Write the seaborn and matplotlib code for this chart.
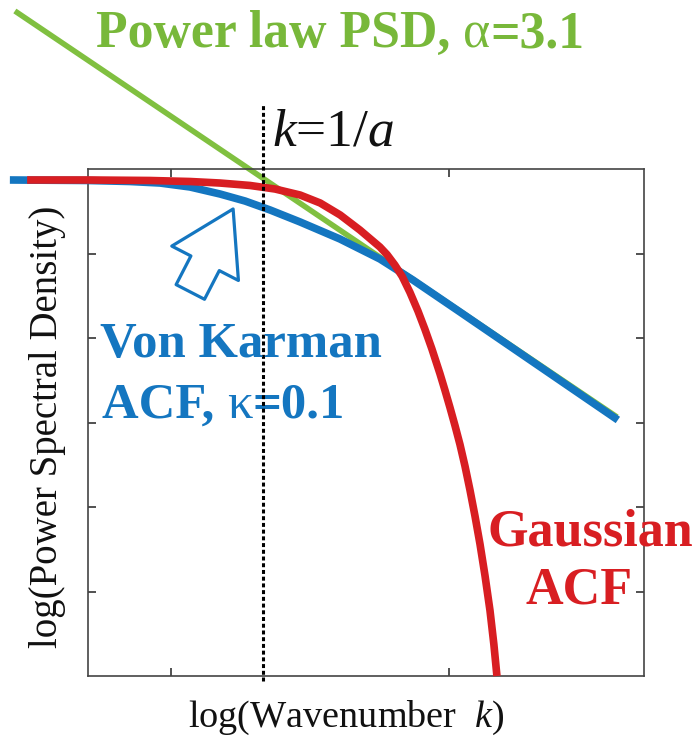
import matplotlib
matplotlib.use("Agg")
import matplotlib.pyplot as plt
import seaborn as sns

# ---- data (x: log wavenumber in decades, y: log PSD in tick units) ----
blue_x = [-0.281, 0.000, 0.151, 0.259, 0.367, 0.475, 0.565, 0.655, 0.763, 0.906, 1.050, 1.169, 1.338, 1.906]
blue_y = [5.870, 5.864, 5.852, 5.834, 5.787, 5.704, 5.621, 5.515, 5.373, 5.172, 4.935, 4.686, 4.308, 3.030]

red_x = [-0.219, 0.000, 0.223, 0.367, 0.475, 0.583, 0.673, 0.763, 0.835, 0.907, 0.978, 1.050, 1.076,
         1.104, 1.130, 1.158, 1.187, 1.212, 1.237, 1.266, 1.284, 1.302, 1.320, 1.338, 1.356,
         1.374, 1.392, 1.410, 1.428, 1.446, 1.460, 1.471]
red_y = [5.870, 5.870, 5.864, 5.852, 5.834, 5.805, 5.763, 5.692, 5.598, 5.456, 5.278, 5.077, 4.986,
         4.863, 4.730, 4.541, 4.318, 4.103, 3.871, 3.578, 3.382, 3.178, 2.965, 2.740, 2.485,
         2.201, 1.894, 1.562, 1.189, 0.775, 0.373, 0.000]

green_x = [-0.263, 1.903]
green_y = [7.870, 3.065]

k_corner = 0.629          # k = 1/a
xticks = [0.30, 1.30]
yticks = [1, 2, 3, 4, 5]
xlim = (0, 2)
ylim = (0, 6)

BLUE = "#1476c0"
RED = "#d81e22"
GREEN = "#80c040"
GREEN_TXT = "#78b83a"

sns.set_style("white")
plt.rcParams["font.family"] = ["Liberation Serif", "DejaVu Serif"]
plt.rcParams["mathtext.fontset"] = "custom"
plt.rcParams["mathtext.rm"] = "Liberation Serif"
plt.rcParams["mathtext.it"] = "Liberation Serif:italic"
plt.rcParams["mathtext.bf"] = "Liberation Serif:bold"

W, H = 695, 743
fig = plt.figure(figsize=(W / 100, H / 100), dpi=100)
L, R, T, B = 88, 644, 169, 676
ax = fig.add_axes([L / W, 1 - B / H, (R - L) / W, (B - T) / H])


def fx(px):
    return px / W


def fy(py):
    return 1 - py / H


sns.lineplot(x=green_x, y=green_y, ax=ax, color=GREEN, lw=4.0, estimator=None,
             sort=False, clip_on=False, zorder=2, solid_capstyle="butt")
sns.lineplot(x=blue_x, y=blue_y, ax=ax, color=BLUE, lw=5.5, estimator=None,
             sort=False, clip_on=False, zorder=3, solid_capstyle="butt",
             solid_joinstyle="round")
sns.lineplot(x=red_x, y=red_y, ax=ax, color=RED, lw=5.5, estimator=None,
             sort=False, clip_on=False, zorder=4, solid_capstyle="butt",
             solid_joinstyle="round")

ax.axvline(k_corner, ymin=-0.01, ymax=1.126, color="black", lw=2.2,
           linestyle=(0, (1.3, 0.9)), clip_on=False, zorder=5)

ax.set_xlim(*xlim)
ax.set_ylim(*ylim)
ax.set_xticks(xticks)
ax.set_yticks(yticks)
ax.tick_params(direction="in", length=6, width=1.2, top=True, right=True,
               bottom=True, left=True, labelbottom=False, labelleft=False,
               color="#333333")
for s in ax.spines.values():
    s.set_visible(True)
    s.set_color("#444444")
    s.set_linewidth(1.2)

ax.annotate("", xy=(0.522, 5.527), xytext=(0.368, 4.545),
            arrowprops=dict(arrowstyle="simple,head_length=4.4,head_width=5.4,tail_width=2.3",
                            fc="white", ec=BLUE, lw=2.3, shrinkA=0, shrinkB=0,
                            mutation_scale=10),
            annotation_clip=False, zorder=6)


def chain(px, py, parts, color, size):
    """Write pieces (text, weight) one after another on a common baseline."""
    prev = fig.text(fx(px), fy(py), parts[0][0], color=color, fontsize=size,
                    fontweight=parts[0][1], ha="left", va="baseline")
    for txt, wt in parts[1:]:
        prev = ax.annotate(txt, xy=(1, 0), xycoords=prev, ha="left", va="bottom",
                           color=color, fontsize=size, fontweight=wt,
                           annotation_clip=False)


chain(96, 47, [("Power law PSD, ", "bold"), ("α", "normal"), ("=3.1", "bold")],
      GREEN_TXT, 37.3)
fig.text(fx(272), fy(146), r"$k$=1/$a$", color="#111111", fontsize=38.5,
         ha="left", va="baseline")
fig.text(fx(100), fy(357), "Von Karman", color=BLUE, fontsize=36.5,
         fontweight="bold", ha="left", va="baseline")
chain(102, 418, [("ACF, ", "bold"), ("κ", "normal"), ("=0.1", "bold")], BLUE, 36.5)
fig.text(fx(487), fy(546), "Gaussian", color=RED, fontsize=37.5,
         fontweight="bold", ha="left", va="baseline")
fig.text(fx(525), fy(603), "ACF", color=RED, fontsize=37.5,
         fontweight="bold", ha="left", va="baseline")

fig.text(fx(346), fy(727), r"log(Wavenumber  $k$)", color="#111111", fontsize=27.5,
         ha="center", va="baseline")
fig.text(fx(57), fy(427), "log(Power Spectral Density)", color="#111111", fontsize=28,
         ha="center", va="baseline", rotation=90, rotation_mode="anchor")

fig.savefig("out.png", dpi=100, facecolor="white")
